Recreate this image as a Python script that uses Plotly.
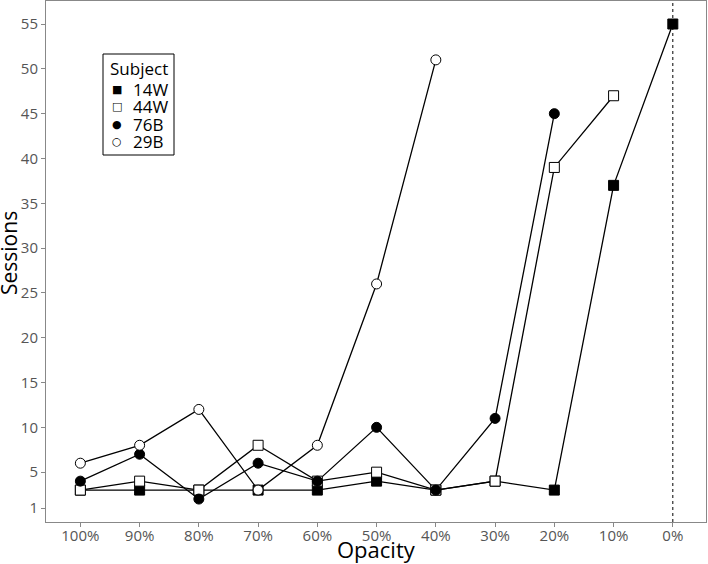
import plotly.graph_objects as go

categories = ["100%", "90%", "80%", "70%", "60%", "50%", "40%", "30%", "20%", "10%", "0%"]
s14W = [3, 3, 3, 3, 3, 4, 3, 4, 3, 37, 55]
s44W = [3, 4, 3, 8, 4, 5, 3, 4, 39, 47]
s76B = [4, 7, 2, 6, 4, 10, 3, 11, 45]
s29B = [6, 8, 12, 3, 8, 26, 51]
y_ticks = [1, 5, 10, 15, 20, 25, 30, 35, 40, 45, 50, 55]

series = [
    ("14W", s14W, "square", "black", "\u25A0"),
    ("44W", s44W, "square", "white", "\u25A1"),
    ("76B", s76B, "circle", "black", "\u25CF"),
    ("29B", s29B, "circle", "white", "\u25CB"),
]

W, H = 708, 564
ML, MR, MT, MB = 46, 2, 1, 42
PW, PH = W - ML - MR, H - MT - MB


def px(xp):
    return (xp - ML) / PW


def py(yp):
    return (H - MB - yp) / PH


fig = go.Figure()
for name, vals, sym, fill, glyph in series:
    fig.add_trace(go.Scatter(
        x=categories[:len(vals)], y=vals, mode="lines",
        line=dict(color="black", width=1.3), showlegend=False, hoverinfo="skip"))
for name, vals, sym, fill, glyph in series:
    fig.add_trace(go.Scatter(
        x=categories[:len(vals)], y=vals, mode="markers", name=name, showlegend=False,
        marker=dict(symbol=sym, color=fill, size=10,
                    line=dict(color="black", width=1))))

fig.add_shape(type="line", x0="0%", x1="0%", xref="x", yref="paper", y0=0, y1=1,
              line=dict(color="black", width=1, dash="dot"), layer="below")

# legend box
fig.add_shape(type="rect", xref="paper", yref="paper",
              x0=px(103), x1=px(174), y0=py(155), y1=py(54),
              line=dict(color="black", width=1), fillcolor="white", layer="above")
annots = [dict(text="Subject", x=px(108), y=py(68), xanchor="left", yanchor="middle",
               font=dict(size=17, color="black", family="Open Sans"))]
item_y = [90, 107, 124, 141]
for (name, vals, sym, fill, glyph), yy in zip(series, item_y):
    annots.append(dict(text=glyph, x=px(117), y=py(yy), xanchor="center", yanchor="middle",
                       font=dict(size=11, color="black", family="DejaVu Sans")))
    annots.append(dict(text=name, x=px(131), y=py(yy), xanchor="left", yanchor="middle",
                       font=dict(size=17, color="black", family="Open Sans")))
annots.append(dict(text="Opacity", x=px(376), y=py(549), xanchor="center", yanchor="middle",
                   font=dict(size=22, color="black", family="Open Sans")))
annots.append(dict(text="Sessions", x=px(9), y=py(253), xanchor="center", yanchor="middle",
                   textangle=-90, font=dict(size=21, color="black", family="Open Sans")))
for a in annots:
    a.update(xref="paper", yref="paper", showarrow=False)

fig.update_layout(
    width=W, height=H,
    margin=dict(l=ML, r=MR, t=MT, b=MB),
    paper_bgcolor="white", plot_bgcolor="white",
    font=dict(family="Open Sans, sans-serif", color="#4d4d4d"),
    showlegend=False,
    annotations=annots,
    xaxis=dict(
        type="category", categoryorder="array", categoryarray=categories,
        range=[-0.58, 10.56], automargin=False,
        tickfont=dict(size=15, color="#555555"), ticklabelstandoff=-4,
        showline=True, mirror=True, linecolor="#888888", linewidth=1,
        ticks="outside", ticklen=4, tickcolor="#888888",
        showgrid=False, zeroline=False),
    yaxis=dict(
        range=[-0.56, 57.57], tickvals=y_ticks, automargin=False,
        tickfont=dict(size=15, color="#555555"),
        showline=True, mirror=True, linecolor="#888888", linewidth=1,
        ticks="outside", ticklen=4, tickcolor="#888888",
        showgrid=False, zeroline=False),
)

fig.write_html("out.html")
